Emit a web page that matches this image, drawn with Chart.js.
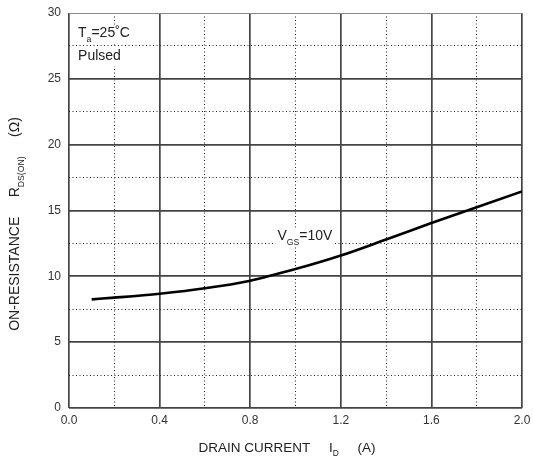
<!DOCTYPE html>
<html>
<head>
<meta charset="utf-8">
<script src="https://cdn.jsdelivr.net/npm/chart.js@4.4.1/dist/chart.umd.min.js"></script>
<style>
    html, body { margin: 0; padding: 0; background: #fff; }
</style>
</head>
<body>
<canvas id="grafico" width="533" height="466"></canvas>
<script>
// curve
const drainCurrent = [0.1, 0.2, 0.4, 0.6, 0.8, 1.0, 1.2, 1.4, 1.6, 1.8, 2.0];
const onResistance = [8.25, 8.38, 8.68, 9.09, 9.67, 10.55, 11.58, 12.8, 14.05, 15.25, 16.45];

// grid positions (majors carry a label, minors are dotted)
const xGrid = [0, 0.2, 0.4, 0.6, 0.8, 1.0, 1.2, 1.4, 1.6, 1.8, 2.0];
const xLabels = ['0.0', '', '0.4', '', '0.8', '', '1.2', '', '1.6', '', '2.0'];
const yGrid = [0, 2.5, 5, 7.5, 10, 12.5, 15, 17.5, 20, 22.5, 25, 27.5, 30];
const yLabels = ['0', '', '5', '', '10', '', '15', '', '20', '', '25', '', '30'];

const FONT = 'Liberation Sans, Arial, sans-serif';

// draws a string made of pieces, some of them subscript
function drawPieces(ctx, pieces, x, y, size) {
    let total = 0;
    pieces.forEach((p) => {
        ctx.font = (p.sub ? size * 0.62 : size) + 'px ' + FONT;
        total += ctx.measureText(p.t).width;
    });
    let cx = x - total / 2;
    pieces.forEach((p) => {
        ctx.font = (p.sub ? size * 0.62 : size) + 'px ' + FONT;
        ctx.fillText(p.t, cx, p.sub ? y + size * 0.45 : y);
        cx += ctx.measureText(p.t).width;
    });
    return total;
}

function drawNote(ctx, pieces, x, y, size) {
    // white box behind the text, like the original
    let total = 0;
    pieces.forEach((p) => {
        ctx.font = (p.sub ? size * 0.62 : size) + 'px ' + FONT;
        total += ctx.measureText(p.t).width;
    });
    ctx.fillStyle = '#fff';
    ctx.fillRect(x - 2, y - size * 0.6, total + 4, size * 1.3);
    ctx.fillStyle = '#222';
    drawPieces(ctx, pieces, x + total / 2, y, size);
}

const textPlugin = {
    id: 'textos',
    afterDatasetsDraw(chart) {
        const ctx = chart.ctx;
        const sx = chart.scales.x;
        const sy = chart.scales.y;
        ctx.save();
        ctx.textBaseline = 'middle';
        ctx.fillStyle = '#222';

        // notes inside the plot
        drawNote(ctx, [{ t: 'T' }, { t: 'a', sub: true }, { t: '=25\u02DAC' }], sx.getPixelForValue(0.04), sy.getPixelForValue(28.45), 14);
        drawNote(ctx, [{ t: 'Pulsed' }], sx.getPixelForValue(0.04), sy.getPixelForValue(26.7), 14);
        drawNote(ctx, [{ t: 'V' }, { t: 'GS', sub: true }, { t: '=10V' }], sx.getPixelForValue(0.92), sy.getPixelForValue(13.05), 14);

        // x axis title
        ctx.fillStyle = '#222';
        drawPieces(ctx, [{ t: 'DRAIN CURRENT     I' }, { t: 'D', sub: true }, { t: '     (A)' }], 287, 448, 13.5);

        // y axis title, rotated
        ctx.translate(15, 224);
        ctx.rotate(-Math.PI / 2);
        drawPieces(ctx, [{ t: 'ON-RESISTANCE     R' }, { t: 'DS(ON)', sub: true }, { t: '     (\u03A9)' }], 0, 0, 14);
        ctx.restore();
    }
};

function isMajor(ctx) {
    return ctx.tick && ctx.index % 2 === 0;
}

let ctx1 = document.getElementById('grafico');

new Chart(ctx1, {
    type: 'line',
    data: {
        labels: drainCurrent,
        datasets: [{
            data: drainCurrent.map((v, i) => ({ x: v, y: onResistance[i] })),
            borderColor: '#000',
            borderWidth: 2.6,
            pointRadius: 0,
            cubicInterpolationMode: 'monotone',
            fill: false
        }]
    },
    options: {
        responsive: false,
        animation: false,
        layout: { padding: { top: 13, right: 11, left: 0, bottom: 0 } },
        plugins: {
            legend: { display: false },
            tooltip: { enabled: false }
        },
        scales: {
            x: {
                type: 'linear',
                min: 0,
                max: 2,
                afterBuildTicks: (scale) => { scale.ticks = xGrid.map((v) => ({ value: v })) },
                afterFit: (scale) => {
                    scale.height = 58
                    // labels at the ends must not push the plot inwards
                    scale.paddingLeft = 0
                    scale.paddingRight = 0
                },
                ticks: {
                    autoSkip: false,
                    maxRotation: 0,
                    padding: 5,
                    color: '#333',
                    font: { family: FONT, size: 12 },
                    callback: (v, i) => xLabels[i]
                },
                grid: {
                    drawTicks: false,
                    color: (c) => isMajor(c) ? '#444' : '#222',
                    lineWidth: (c) => isMajor(c) ? 1.7 : 1
                },
                border: {
                    display: false,
                    dash: (c) => isMajor(c) ? [] : [1, 2.5]
                }
            },
            y: {
                min: 0,
                max: 30,
                afterBuildTicks: (scale) => { scale.ticks = yGrid.map((v) => ({ value: v })) },
                afterFit: (scale) => {
                    scale.width = 69
                    scale.paddingTop = 0
                    scale.paddingBottom = 0
                },
                ticks: {
                    autoSkip: false,
                    padding: 8,
                    color: '#333',
                    font: { family: FONT, size: 12 },
                    callback: (v, i) => yLabels[i]
                },
                grid: {
                    drawTicks: false,
                    color: (c) => {
                        if (c.tick && c.tick.value === 30) return '#8a8a8a'
                        return isMajor(c) ? '#444' : '#222'
                    },
                    lineWidth: (c) => {
                        if (c.tick && c.tick.value === 30) return 1
                        return isMajor(c) ? 1.7 : 1
                    }
                },
                border: {
                    display: false,
                    dash: (c) => isMajor(c) ? [] : [1, 2.5]
                }
            }
        }
    },
    plugins: [textPlugin]
});
</script>
</body>
</html>
